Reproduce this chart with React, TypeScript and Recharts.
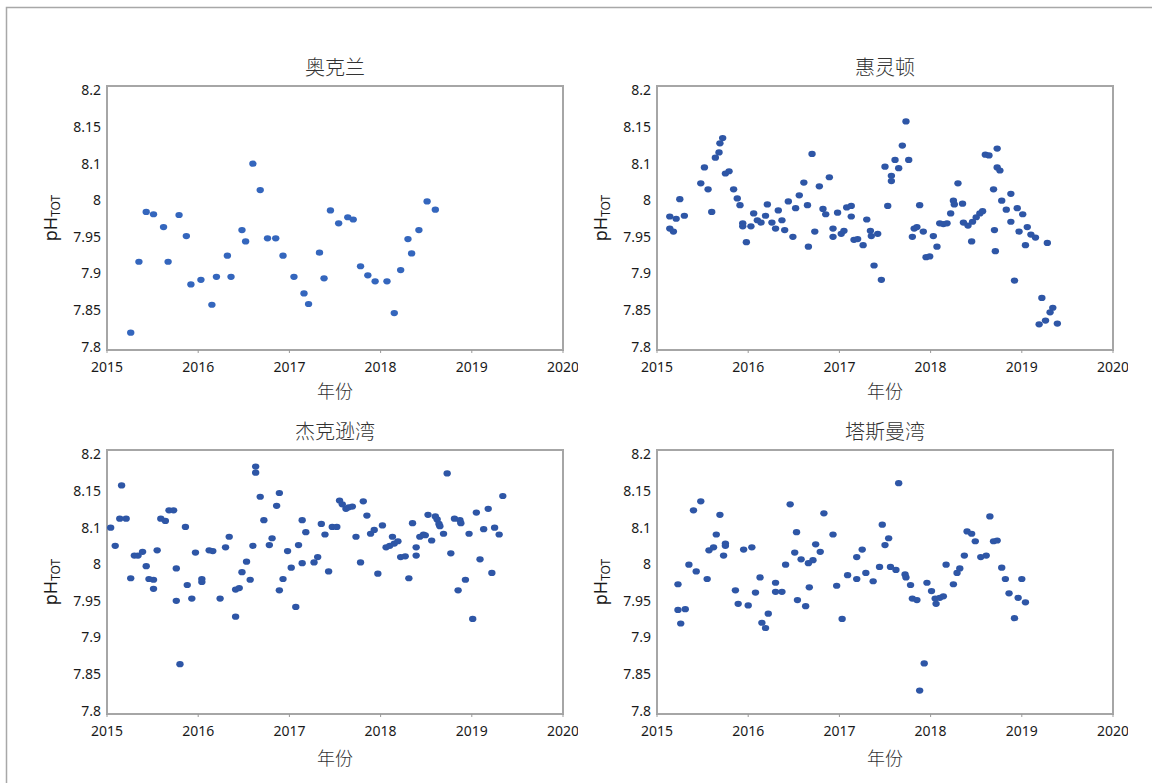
import { ScatterChart, Scatter, XAxis, YAxis, ReferenceArea } from 'recharts';

// decimal year / pH pairs for each site
const aucklandTime = [
  2015.26, 2015.35, 2015.43, 2015.51, 2015.62, 2015.67, 2015.79, 2015.87, 2015.92, 2016.03,
  2016.15, 2016.2, 2016.32, 2016.36, 2016.48, 2016.52, 2016.6, 2016.68, 2016.76, 2016.85,
  2016.93, 2017.05, 2017.16, 2017.21, 2017.33, 2017.38, 2017.45, 2017.54, 2017.64, 2017.7,
  2017.78, 2017.86, 2017.94, 2018.07, 2018.15, 2018.22, 2018.3, 2018.34, 2018.42, 2018.51,
  2018.6,
];
const aucklandPh = [
  7.823, 7.917, 7.983, 7.98, 7.963, 7.917, 7.979, 7.951, 7.887, 7.893,
  7.86, 7.897, 7.925, 7.897, 7.959, 7.944, 8.047, 8.012, 7.948, 7.948,
  7.925, 7.897, 7.875, 7.861, 7.929, 7.895, 7.985, 7.968, 7.976, 7.973,
  7.911, 7.899, 7.891, 7.891, 7.849, 7.906, 7.947, 7.928, 7.959, 7.997,
  7.986,
];

const wellingtonTime = [
  2015.14, 2015.14, 2015.18, 2015.21, 2015.25, 2015.3, 2015.48, 2015.52, 2015.56, 2015.6,
  2015.64, 2015.68, 2015.69, 2015.72, 2015.75, 2015.79, 2015.84, 2015.88, 2015.91, 2015.94,
  2015.94, 2015.98, 2016.03, 2016.06, 2016.1, 2016.14, 2016.19, 2016.21, 2016.26, 2016.3,
  2016.33, 2016.37, 2016.4, 2016.44, 2016.49, 2016.52, 2016.56, 2016.61, 2016.65, 2016.66,
  2016.7, 2016.73, 2016.78, 2016.82, 2016.85, 2016.89, 2016.93, 2016.93, 2016.98, 2017.02,
  2017.05, 2017.08, 2017.13, 2017.13, 2017.16, 2017.2, 2017.26, 2017.3, 2017.34, 2017.35,
  2017.38, 2017.42, 2017.46, 2017.5, 2017.53, 2017.57, 2017.57, 2017.61, 2017.65, 2017.69,
  2017.73, 2017.76, 2017.8, 2017.82, 2017.85, 2017.88, 2017.92, 2017.95, 2017.99, 2018.03,
  2018.07, 2018.1, 2018.14, 2018.18, 2018.22, 2018.25, 2018.26, 2018.3, 2018.35, 2018.36,
  2018.41, 2018.45, 2018.46, 2018.5, 2018.54, 2018.57, 2018.6, 2018.64, 2018.69, 2018.7,
  2018.71, 2018.73, 2018.73, 2018.76, 2018.78, 2018.83, 2018.88, 2018.88, 2018.92, 2018.95,
  2018.97, 2019.01, 2019.04, 2019.06, 2019.1, 2019.15, 2019.19, 2019.22, 2019.26, 2019.28,
  2019.31, 2019.34, 2019.39,
];
const wellingtonPh = [
  7.977, 7.961, 7.957, 7.974, 8.0, 7.978, 8.021, 8.042, 8.013, 7.983,
  8.055, 8.062, 8.074, 8.081, 8.034, 8.037, 8.013, 8.001, 7.992, 7.968,
  7.964, 7.943, 7.964, 7.981, 7.972, 7.969, 7.978, 7.993, 7.969, 7.961,
  7.985, 7.972, 7.959, 7.997, 7.95, 7.988, 8.005, 8.022, 7.992, 7.937,
  8.06, 7.957, 8.017, 7.987, 7.98, 8.029, 7.961, 7.95, 7.982, 7.954,
  7.958, 7.989, 7.991, 7.977, 7.946, 7.947, 7.939, 7.973, 7.958, 7.951,
  7.912, 7.954, 7.893, 8.043, 7.991, 8.031, 8.024, 8.052, 8.041, 8.071,
  8.103, 8.052, 7.95, 7.961, 7.963, 7.992, 7.957, 7.923, 7.924, 7.951,
  7.937, 7.968, 7.967, 7.968, 7.981, 7.998, 7.993, 8.021, 7.994, 7.969,
  7.965, 7.944, 7.97, 7.976, 7.981, 7.984, 8.059, 8.058, 8.013, 7.959,
  7.931, 8.067, 8.042, 8.038, 7.998, 7.986, 7.97, 8.007, 7.892, 7.988,
  7.957, 7.98, 7.939, 7.963, 7.953, 7.949, 7.834, 7.869, 7.839, 7.942,
  7.85, 7.856, 7.835,
];

const jacksonTime = [
  2015.04, 2015.09, 2015.14, 2015.16, 2015.21, 2015.26, 2015.3, 2015.34, 2015.39, 2015.43,
  2015.46, 2015.51, 2015.51, 2015.55, 2015.59, 2015.64, 2015.68, 2015.73, 2015.76, 2015.76,
  2015.8, 2015.86, 2015.88, 2015.93, 2015.97, 2016.04, 2016.04, 2016.12, 2016.16, 2016.24,
  2016.3, 2016.34, 2016.41, 2016.41, 2016.45, 2016.48, 2016.53, 2016.57, 2016.6, 2016.63,
  2016.63, 2016.68, 2016.72, 2016.78, 2016.81, 2016.86, 2016.89, 2016.89, 2016.93, 2016.98,
  2017.02, 2017.07, 2017.1, 2017.14, 2017.14, 2017.18, 2017.27, 2017.31, 2017.35, 2017.39,
  2017.43, 2017.47, 2017.52, 2017.55, 2017.58, 2017.62, 2017.65, 2017.69, 2017.73, 2017.78,
  2017.81, 2017.85, 2017.89, 2017.93, 2017.97, 2018.02, 2018.06, 2018.1, 2018.13, 2018.15,
  2018.19, 2018.22, 2018.27, 2018.31, 2018.35, 2018.39, 2018.39, 2018.43, 2018.47, 2018.49,
  2018.52, 2018.56, 2018.6, 2018.62, 2018.64, 2018.65, 2018.69, 2018.73, 2018.77, 2018.81,
  2018.85, 2018.87, 2018.88, 2018.93, 2018.97, 2019.01, 2019.05, 2019.09, 2019.13, 2019.18,
  2019.22, 2019.25, 2019.3, 2019.34,
];
const jacksonPh = [
  8.047, 8.023, 8.059, 8.103, 8.059, 7.98, 8.01, 8.01, 8.015, 7.996,
  7.979, 7.978, 7.966, 8.017, 8.059, 8.056, 8.07, 8.07, 7.993, 7.95,
  7.866, 8.048, 7.971, 7.953, 8.014, 7.979, 7.975, 8.017, 8.016, 7.953,
  8.021, 8.035, 7.965, 7.929, 7.967, 7.988, 8.002, 7.978, 8.023, 8.128,
  8.12, 8.088, 8.057, 8.024, 8.033, 8.076, 8.093, 7.964, 7.979, 8.016,
  7.994, 7.942, 8.024, 8.0, 8.057, 8.041, 8.001, 8.008, 8.052, 8.038,
  7.989, 8.048, 8.048, 8.083, 8.078, 8.072, 8.074, 8.075, 8.035, 8.001,
  8.082, 8.063, 8.039, 8.044, 7.986, 8.05, 8.021, 8.023, 8.035, 8.026,
  8.029, 8.008, 8.009, 7.98, 8.053, 8.01, 8.021, 8.035, 8.038, 8.037,
  8.064, 8.03, 8.062, 8.058, 8.052, 8.049, 8.039, 8.119, 8.013, 8.059,
  7.964, 8.057, 8.053, 7.978, 8.039, 7.926, 8.067, 8.005, 8.045, 8.072,
  7.987, 8.047, 8.038, 8.089,
];

const tasmanTime = [
  2015.23, 2015.23, 2015.26, 2015.31, 2015.35, 2015.4, 2015.43, 2015.48, 2015.55, 2015.57,
  2015.62, 2015.65, 2015.69, 2015.73, 2015.75, 2015.75, 2015.86, 2015.89, 2015.95, 2016.0,
  2016.04, 2016.08, 2016.13, 2016.15, 2016.19, 2016.22, 2016.3, 2016.3, 2016.37, 2016.41,
  2016.46, 2016.51, 2016.53, 2016.54, 2016.58, 2016.63, 2016.66, 2016.67, 2016.71, 2016.74,
  2016.79, 2016.83, 2016.93, 2016.97, 2017.03, 2017.09, 2017.19, 2017.19, 2017.25, 2017.29,
  2017.37, 2017.44, 2017.47, 2017.5, 2017.54, 2017.56, 2017.62, 2017.65, 2017.72, 2017.73,
  2017.78, 2017.8, 2017.85, 2017.88, 2017.93, 2017.96, 2018.01, 2018.05, 2018.06, 2018.1,
  2018.14, 2018.17, 2018.25, 2018.29, 2018.32, 2018.37, 2018.4, 2018.45, 2018.49, 2018.55,
  2018.61, 2018.65, 2018.69, 2018.73, 2018.78, 2018.82, 2018.86, 2018.92, 2018.96, 2019.0,
  2019.04,
];
const tasmanPh = [
  7.972, 7.938, 7.92, 7.939, 7.998, 8.07, 7.989, 8.082, 7.979, 8.017,
  8.021, 8.038, 8.064, 8.01, 8.026, 8.023, 7.964, 7.946, 8.018, 7.944,
  8.021, 7.961, 7.981, 7.921, 7.914, 7.933, 7.974, 7.962, 7.962, 7.998,
  8.078, 8.014, 8.041, 7.951, 8.005, 7.943, 8.0, 7.968, 8.004, 8.025,
  8.015, 8.066, 8.038, 7.97, 7.926, 7.984, 8.008, 7.979, 8.018, 7.987,
  7.976, 7.995, 8.051, 8.024, 8.033, 7.995, 7.991, 8.106, 7.985, 7.981,
  7.971, 7.953, 7.951, 7.831, 7.867, 7.974, 7.963, 7.953, 7.946, 7.954,
  7.956, 7.998, 7.972, 7.987, 7.993, 8.01, 8.042, 8.039, 8.029, 8.008,
  8.01, 8.062, 8.029, 8.03, 7.994, 7.979, 7.96, 7.927, 7.954, 7.979,
  7.948,
];

const X_TICKS = [2015, 2016, 2017, 2018, 2019, 2020];
// tick positions are evenly spaced; the printed labels skip 8.05
const Y_TICKS = [7.8, 7.85, 7.9, 7.95, 8, 8.05, 8.1, 8.15];
const Y_LABELS = ['7.8', '7.85', '7.9', '7.95', '8', '8.1', '8.15', '8.2'];

const W = 570;
const H = 400;
const PLOT_LEFT = 99;
const PLOT_TOP = 78;
const PLOT_W = 456;
const PLOT_H = 264;
const MID_Y = PLOT_TOP + PLOT_H / 2;

const FRAME = '#a6a6a6';
const LATIN = '"Noto Sans", "Open Sans", sans-serif';
const CJK = '"Noto Sans CJK SC", "Noto Sans", sans-serif';

// y labels sit slightly pulled in toward the middle of the axis
function YTick(props: any) {
  const { x, y, payload } = props;
  const i = Y_TICKS.findIndex((t) => Math.abs(t - payload.value) < 1e-6);
  const ty = y + (MID_Y - y) * 0.03;
  return (
    <text x={x} y={ty} textAnchor="end" dominantBaseline="central" fill="#1a1a1a" fontSize={14} fontFamily={LATIN}>
      {Y_LABELS[i] ?? ''}
    </text>
  );
}

interface PanelProps {
  title: string;
  time: number[];
  ph: number[];
  left: number;
  top: number;
  color: string;
  xLabelGap: number;
}

function Panel({ title, time, ph, left, top, color, xLabelGap }: PanelProps) {
  const data = time.map((t, i) => ({ t, ph: ph[i] }));

  return (
    <div style={{ position: 'absolute', left, top, width: W, height: H }}>
      <div
        style={{
          position: 'absolute',
          left: PLOT_LEFT,
          width: PLOT_W,
          top: 47,
          lineHeight: '24px',
          textAlign: 'center',
          fontSize: 20,
          fontWeight: 300,
          color: '#333',
          fontFamily: CJK,
        }}
      >
        {title}
      </div>
      <ScatterChart width={W} height={H} margin={{ top: PLOT_TOP, right: W - PLOT_LEFT - PLOT_W, bottom: 0, left: 0 }}>
        <XAxis
          type="number"
          dataKey="t"
          domain={[2015, 2020]}
          ticks={X_TICKS}
          interval={0}
          height={H - PLOT_TOP - PLOT_H}
          axisLine={false}
          tickLine={{ stroke: '#999' }}
          tickSize={3}
          tickMargin={9}
          tick={{ fill: '#1a1a1a', fontSize: 14, fontFamily: LATIN }}
        />
        <YAxis
          type="number"
          dataKey="ph"
          domain={[7.8, 8.15]}
          ticks={Y_TICKS}
          interval={0}
          width={PLOT_LEFT}
          axisLine={false}
          tickLine={false}
          tickSize={4}
          tickMargin={2}
          tick={<YTick />}
        />
        <ReferenceArea x1={2015} x2={2020} y1={7.8} y2={8.15} fill="none" stroke={FRAME} strokeWidth={2} />
        <Scatter
          data={data}
          isAnimationActive={false}
          shape={(p: any) => <ellipse cx={p.cx} cy={p.cy} rx={3.7} ry={3.1} fill={color} />}
        />
        {/* y axis title with subscript */}
        <text
          x={49}
          y={MID_Y}
          transform={`rotate(-90, 49, ${MID_Y})`}
          textAnchor="middle"
          fontFamily={LATIN}
          fontSize={18}
          fill="#1a1a1a"
        >
          pH
          <tspan fontSize={12} dy={3}>TOT</tspan>
        </text>
        <text
          x={PLOT_LEFT + PLOT_W / 2}
          y={PLOT_TOP + PLOT_H + xLabelGap}
          textAnchor="middle"
          dominantBaseline="central"
          fontFamily={CJK}
          fontWeight={300}
          fontSize={18}
          fill="#333"
        >
          年份
        </text>
      </ScatterChart>
    </div>
  );
}

export default function App() {
  return (
    <div style={{ position: 'relative', width: 1136, height: 764, background: '#fff' }}>
      <Panel title="奥克兰" time={aucklandTime} ph={aucklandPh} left={0} top={0} color="#3466bd" xLabelGap={40} />
      <Panel title="惠灵顿" time={wellingtonTime} ph={wellingtonPh} left={550} top={0} color="#2e56a6" xLabelGap={40} />
      <Panel title="杰克逊湾" time={jacksonTime} ph={jacksonPh} left={0} top={364} color="#2e56a6" xLabelGap={43} />
      <Panel title="塔斯曼湾" time={tasmanTime} ph={tasmanPh} left={550} top={364} color="#2e56a6" xLabelGap={43} />
      {/* figure frame: only its top and left edges fall inside the page */}
      <svg
        width={1152}
        height={783}
        style={{ position: 'fixed', left: 0, top: 0, pointerEvents: 'none' }}
      >
        <polyline points="6.5,783 6.5,7.5 1152,7.5" fill="none" stroke="#a8a8a8" strokeWidth={1.5} />
      </svg>
    </div>
  );
}
